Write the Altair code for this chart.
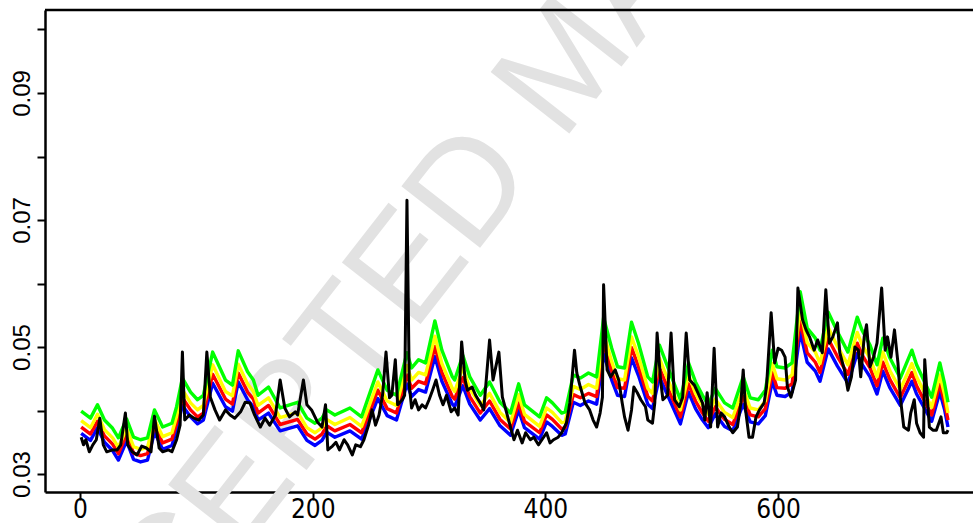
import altair as alt
import pandas as pd

# ---- observed series (black) ----
black_x = [1, 3, 5, 8, 11, 14, 17, 20, 23, 28,
           32, 35, 39, 41, 45, 49, 53, 57, 61, 64,
           68, 71, 76, 79, 83, 86, 88, 90, 94, 98,
           102, 106, 109, 112, 116, 120, 125, 129, 133, 138,
           142, 146, 150, 155, 159, 163, 168, 172, 176, 180,
           185, 187, 192, 195, 199, 204, 208, 211, 213, 217,
           220, 223, 227, 230, 234, 237, 241, 244, 248, 251,
           254, 257, 260, 263, 266, 268, 271, 273, 277, 279,
           281, 283, 285, 288, 291, 294, 297, 300, 303, 306,
           309, 312, 315, 319, 322, 325, 328, 331, 333, 337,
           340, 344, 347, 352, 355, 360, 363, 366, 370, 373,
           376, 380, 383, 387, 390, 394, 397, 401, 404, 407,
           411, 414, 418, 421, 425, 427, 430, 434, 438, 441,
           444, 447, 449, 450, 453, 456, 460, 463, 466, 468,
           471, 474, 476, 479, 482, 486, 488, 492, 494, 496,
           499, 501, 505, 508, 511, 515, 518, 521, 524, 528,
           531, 535, 537, 539, 542, 545, 548, 551, 554, 558,
           561, 565, 568, 570, 572, 575, 578, 581, 584, 588,
           590, 594, 597, 600, 603, 606, 608, 611, 615, 617,
           621, 624, 627, 631, 634, 638, 641, 644, 647, 651,
           653, 657, 660, 663, 666, 669, 671, 674, 676, 679,
           682, 685, 689, 692, 694, 697, 700, 703, 705, 708,
           712, 714, 717, 719, 722, 725, 726, 730, 733, 736,
           740, 742, 745, 746]
black_y = [0.0358, 0.0346, 0.0354, 0.0335, 0.0346, 0.0354, 0.0388, 0.0346, 0.0335, 0.0338,
           0.0338, 0.0346, 0.0396, 0.0346, 0.0335, 0.0330, 0.0344, 0.0341, 0.0335, 0.0391,
           0.0341, 0.0335, 0.0338, 0.0335, 0.0354, 0.0377, 0.0492, 0.0385, 0.0393, 0.0388,
           0.0385, 0.0393, 0.0492, 0.0421, 0.0401, 0.0385, 0.0401, 0.0393, 0.0388, 0.0398,
           0.0413, 0.0412, 0.0393, 0.0374, 0.0388, 0.0377, 0.0393, 0.0448, 0.0404, 0.0390,
           0.0398, 0.0393, 0.0448, 0.0409, 0.0401, 0.0382, 0.0374, 0.0409, 0.0338, 0.0344,
           0.0350, 0.0338, 0.0354, 0.0346, 0.0330, 0.0346, 0.0343, 0.0354, 0.0377, 0.0401,
           0.0377, 0.0393, 0.0424, 0.0492, 0.0420, 0.0424, 0.0480, 0.0409, 0.0417, 0.0424,
           0.0731, 0.0440, 0.0404, 0.0417, 0.0401, 0.0409, 0.0404, 0.0417, 0.0432, 0.0448,
           0.0424, 0.0409, 0.0424, 0.0398, 0.0404, 0.0393, 0.0508, 0.0448, 0.0432, 0.0437,
           0.0424, 0.0412, 0.0401, 0.0511, 0.0448, 0.0492, 0.0421, 0.0401, 0.0374, 0.0354,
           0.0369, 0.0349, 0.0365, 0.0354, 0.0358, 0.0346, 0.0354, 0.0365, 0.0349, 0.0354,
           0.0358, 0.0365, 0.0380, 0.0412, 0.0495, 0.0459, 0.0437, 0.0412, 0.0401, 0.0385,
           0.0374, 0.0396, 0.0421, 0.0598, 0.0464, 0.0453, 0.0464, 0.0448, 0.0412, 0.0390,
           0.0369, 0.0401, 0.0437, 0.0428, 0.0417, 0.0406, 0.0385, 0.0380, 0.0412, 0.0522,
           0.0448, 0.0417, 0.0424, 0.0522, 0.0417, 0.0406, 0.0421, 0.0522, 0.0448, 0.0440,
           0.0428, 0.0412, 0.0385, 0.0428, 0.0374, 0.0498, 0.0374, 0.0396, 0.0390, 0.0374,
           0.0365, 0.0374, 0.0412, 0.0464, 0.0401, 0.0358, 0.0358, 0.0390, 0.0401, 0.0412,
           0.0437, 0.0554, 0.0475, 0.0498, 0.0495, 0.0484, 0.0437, 0.0421, 0.0448, 0.0593,
           0.0543, 0.0527, 0.0516, 0.0495, 0.0511, 0.0491, 0.0590, 0.0506, 0.0516, 0.0538,
           0.0491, 0.0464, 0.0432, 0.0453, 0.0500, 0.0495, 0.0453, 0.0516, 0.0535, 0.0469,
           0.0484, 0.0506, 0.0593, 0.0495, 0.0516, 0.0484, 0.0527, 0.0475, 0.0421, 0.0374,
           0.0369, 0.0396, 0.0417, 0.0380, 0.0365, 0.0358, 0.0480, 0.0374, 0.0369, 0.0369,
           0.0390, 0.0365, 0.0365, 0.0369]

# ---- quantile series (shared x positions) ----
band_x = [1, 9, 15, 21, 28, 33, 40, 46, 52, 58,
          64, 71, 79, 83, 88, 95, 101, 106, 114, 125,
          131, 136, 144, 149, 153, 162, 172, 187, 195, 202,
          208, 212, 219, 232, 242, 256, 264, 272, 281, 285,
          291, 297, 305, 311, 320, 322, 329, 335, 344, 352,
          361, 370, 377, 382, 395, 401, 406, 414, 417, 424,
          430, 437, 444, 450, 457, 462, 468, 474, 480, 488,
          492, 498, 505, 516, 523, 529, 535, 540, 546, 554,
          561, 570, 576, 583, 589, 595, 599, 606, 612, 619,
          625, 632, 636, 643, 651, 660, 668, 672, 679, 685,
          690, 696, 705, 715, 719, 732, 739, 743, 746]
green_y = [0.0399, 0.0388, 0.0409, 0.0385, 0.0372, 0.0357, 0.0387, 0.0358, 0.0354, 0.0357,
           0.0401, 0.0374, 0.0380, 0.0406, 0.0451, 0.0429, 0.0417, 0.0424, 0.0492, 0.0448,
           0.0440, 0.0494, 0.0461, 0.0448, 0.0424, 0.0437, 0.0404, 0.0413, 0.0388, 0.0380,
           0.0388, 0.0401, 0.0393, 0.0404, 0.0390, 0.0464, 0.0432, 0.0424, 0.0491, 0.0467,
           0.0480, 0.0475, 0.0541, 0.0495, 0.0453, 0.0448, 0.0487, 0.0453, 0.0424, 0.0445,
           0.0413, 0.0396, 0.0442, 0.0409, 0.0390, 0.0420, 0.0412, 0.0396, 0.0398, 0.0456,
           0.0451, 0.0459, 0.0453, 0.0546, 0.0498, 0.0469, 0.0467, 0.0539, 0.0506, 0.0453,
           0.0445, 0.0503, 0.0469, 0.0417, 0.0475, 0.0445, 0.0424, 0.0409, 0.0435, 0.0412,
           0.0404, 0.0453, 0.0420, 0.0417, 0.0432, 0.0495, 0.0469, 0.0467, 0.0475, 0.0587,
           0.0530, 0.0514, 0.0495, 0.0555, 0.0524, 0.0492, 0.0547, 0.0527, 0.0503, 0.0472,
           0.0514, 0.0483, 0.0451, 0.0495, 0.0472, 0.0421, 0.0475, 0.0443, 0.0413]
yellow_y = [0.0384, 0.0373, 0.0394, 0.0370, 0.0357, 0.0342, 0.0372, 0.0343, 0.0339, 0.0342,
            0.0386, 0.0359, 0.0365, 0.0391, 0.0433, 0.0412, 0.0401, 0.0408, 0.0472, 0.0430,
            0.0423, 0.0473, 0.0442, 0.0430, 0.0408, 0.0420, 0.0389, 0.0397, 0.0373, 0.0365,
            0.0373, 0.0386, 0.0378, 0.0389, 0.0375, 0.0445, 0.0415, 0.0408, 0.0471, 0.0448,
            0.0460, 0.0456, 0.0517, 0.0474, 0.0435, 0.0430, 0.0467, 0.0435, 0.0408, 0.0427,
            0.0397, 0.0381, 0.0425, 0.0394, 0.0375, 0.0404, 0.0397, 0.0381, 0.0383, 0.0438,
            0.0433, 0.0441, 0.0435, 0.0522, 0.0477, 0.0450, 0.0448, 0.0516, 0.0485, 0.0435,
            0.0427, 0.0482, 0.0450, 0.0401, 0.0456, 0.0427, 0.0408, 0.0394, 0.0418, 0.0397,
            0.0389, 0.0435, 0.0404, 0.0401, 0.0415, 0.0474, 0.0450, 0.0448, 0.0456, 0.0560,
            0.0507, 0.0492, 0.0474, 0.0531, 0.0501, 0.0472, 0.0523, 0.0504, 0.0482, 0.0453,
            0.0492, 0.0463, 0.0433, 0.0474, 0.0453, 0.0405, 0.0456, 0.0426, 0.0396]
red_y = [0.0374, 0.0363, 0.0383, 0.0360, 0.0347, 0.0332, 0.0362, 0.0333, 0.0329, 0.0332,
         0.0376, 0.0349, 0.0355, 0.0380, 0.0420, 0.0401, 0.0390, 0.0396, 0.0457, 0.0418,
         0.0410, 0.0459, 0.0429, 0.0418, 0.0396, 0.0408, 0.0378, 0.0386, 0.0363, 0.0355,
         0.0363, 0.0376, 0.0368, 0.0378, 0.0365, 0.0432, 0.0403, 0.0396, 0.0456, 0.0435,
         0.0446, 0.0442, 0.0501, 0.0460, 0.0422, 0.0418, 0.0452, 0.0422, 0.0396, 0.0415,
         0.0386, 0.0371, 0.0412, 0.0383, 0.0365, 0.0393, 0.0386, 0.0371, 0.0373, 0.0425,
         0.0420, 0.0427, 0.0422, 0.0505, 0.0462, 0.0436, 0.0435, 0.0499, 0.0469, 0.0422,
         0.0415, 0.0467, 0.0436, 0.0390, 0.0442, 0.0415, 0.0396, 0.0383, 0.0406, 0.0386,
         0.0378, 0.0422, 0.0393, 0.0390, 0.0403, 0.0460, 0.0436, 0.0435, 0.0442, 0.0542,
         0.0491, 0.0476, 0.0460, 0.0513, 0.0485, 0.0457, 0.0506, 0.0488, 0.0467, 0.0439,
         0.0476, 0.0449, 0.0420, 0.0460, 0.0439, 0.0393, 0.0442, 0.0413, 0.0385]
blue_y = [0.0364, 0.0353, 0.0373, 0.0350, 0.0337, 0.0322, 0.0352, 0.0323, 0.0319, 0.0322,
          0.0366, 0.0339, 0.0345, 0.0370, 0.0408, 0.0390, 0.0379, 0.0385, 0.0443, 0.0406,
          0.0399, 0.0445, 0.0417, 0.0406, 0.0385, 0.0396, 0.0368, 0.0376, 0.0353, 0.0345,
          0.0353, 0.0366, 0.0358, 0.0368, 0.0355, 0.0419, 0.0392, 0.0385, 0.0442, 0.0422,
          0.0433, 0.0429, 0.0485, 0.0446, 0.0410, 0.0406, 0.0439, 0.0410, 0.0385, 0.0403,
          0.0376, 0.0361, 0.0401, 0.0373, 0.0355, 0.0382, 0.0375, 0.0361, 0.0363, 0.0413,
          0.0408, 0.0415, 0.0410, 0.0489, 0.0448, 0.0424, 0.0422, 0.0483, 0.0455, 0.0410,
          0.0403, 0.0453, 0.0424, 0.0379, 0.0429, 0.0403, 0.0385, 0.0373, 0.0395, 0.0375,
          0.0368, 0.0410, 0.0382, 0.0379, 0.0392, 0.0446, 0.0424, 0.0422, 0.0429, 0.0524,
          0.0476, 0.0462, 0.0446, 0.0497, 0.0470, 0.0443, 0.0490, 0.0473, 0.0453, 0.0426,
          0.0462, 0.0436, 0.0408, 0.0446, 0.0426, 0.0383, 0.0429, 0.0402, 0.0374]

x_ticks = [0, 200, 400, 600]
y_ticks = [0.03, 0.04, 0.05, 0.06, 0.07, 0.08, 0.09, 0.10]
watermark = "ACCEPTED MANUSCRIPT"

W, H = 928, 482
xscale = alt.Scale(domain=[-30.1, 767.5], nice=False, zero=False)
yscale = alt.Scale(domain=[0.02717, 0.10307], nice=False, zero=False)

xaxis = alt.Axis(values=x_ticks, title=None, grid=False, domainColor="black",
                 domainWidth=2.5, tickColor="black", tickWidth=2, tickSize=8,
                 labelFont="Liberation Sans Narrow, DejaVu Sans Condensed, Liberation Sans",
                 labelFontSize=26, labelColor="black", labelPadding=-4,
                 labelBaseline="top", labelFlush=False, labelOverlap=False)
yaxis = alt.Axis(values=y_ticks, title=None, grid=False, domainColor="black",
                 domainWidth=2.5, tickColor="black", tickWidth=2, tickSize=8,
                 labelFont="Liberation Sans", labelFontSize=24, labelColor="black",
                 labelAngle=270, labelAlign="center", labelBaseline="alphabetic",
                 labelPadding=8, labelFlush=False, labelOverlap=False,
                 labelExpr="round(datum.value*100) % 2 == 1 ? format(datum.value, '.2f') : ''")

black_df = pd.DataFrame({"t": black_x, "v": black_y})
band_df = pd.DataFrame({"t": band_x, "green": green_y, "yellow": yellow_y,
                        "red": red_y, "blue": blue_y})


def band_line(col, color):
    return alt.Chart(band_df).mark_line(color=color, strokeWidth=3.4, strokeJoin="round").encode(
        x=alt.X("t:Q", scale=xscale, axis=xaxis),
        y=alt.Y(f"{col}:Q", scale=yscale, axis=yaxis),
    )


wm = alt.Chart(pd.DataFrame({"label": [watermark]})).mark_text(
    angle=308, fontSize=145, font="Liberation Sans", color="#e2e2e2",
    align="center", baseline="middle"
).encode(text="label:N", x=alt.value(522), y=alt.value(55))

top_rule = alt.Chart(pd.DataFrame({"a": [0]})).mark_rule(color="black", strokeWidth=2.5).encode(
    x=alt.value(0), x2=alt.value(W), y=alt.value(0)
)

black_line = alt.Chart(black_df).mark_line(color="black", strokeWidth=3, strokeJoin="round").encode(
    x=alt.X("t:Q", scale=xscale, axis=xaxis),
    y=alt.Y("v:Q", scale=yscale, axis=yaxis),
)

chart = alt.layer(
    wm,
    band_line("blue", "#0000FF"),
    band_line("red", "#FF0000"),
    band_line("yellow", "#FFFF00"),
    band_line("green", "#00FF00"),
    black_line,
    top_rule,
).properties(
    width=W, height=H,
    padding={"left": 45, "top": 10, "right": 0, "bottom": 31},
    autosize=alt.AutoSizeParams(type="none"),
    background="white",
).configure_view(stroke=None)

chart.save("out.html", embed_options={"renderer": "svg", "actions": False})
